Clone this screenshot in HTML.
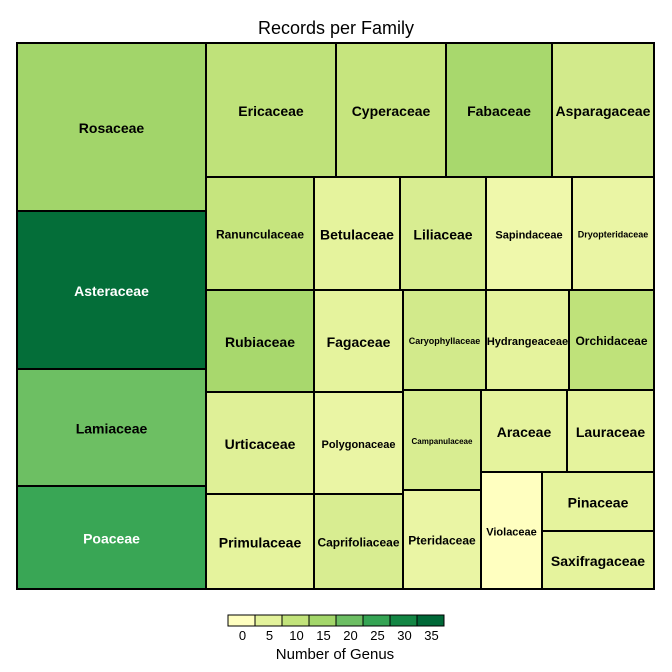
<!DOCTYPE html>
<html><head><meta charset="utf-8"><style>
body{margin:0;background:#fff;}
svg{display:block;font-family:"Liberation Sans",Arial,sans-serif;}
</style></head><body>
<svg id="c" width="672" height="672">
<text x="336" y="34" text-anchor="middle" font-size="18">Records per Family</text>
<g id="tiles"></g>
<g id="legend"></g>
</svg>
<script>
const families=["Rosaceae","Asteraceae","Lamiaceae","Poaceae","Ericaceae","Cyperaceae","Fabaceae","Asparagaceae","Ranunculaceae","Betulaceae","Liliaceae","Sapindaceae","Dryopteridaceae","Rubiaceae","Fagaceae","Caryophyllaceae","Hydrangeaceae","Orchidaceae","Urticaceae","Primulaceae","Polygonaceae","Caprifoliaceae","Campanulaceae","Pteridaceae","Araceae","Lauraceae","Violaceae","Pinaceae","Saxifragaceae"];
const genusCounts=[16,36,21,26,11,10,15,8,10,5,7,3,4,15,5,8,5,11,6,5,4,7,7,4,5,5,0,5,5];
// tile rectangles [x0,y0,x1,y1] from the treemap layout
const tileRects=[[17,43,206,211],[17,211,206,369],[17,369,206,486],[17,486,206,589],
[206,43,336,177],[336,43,446,177],[446,43,552,177],[552,43,654,177],
[206,177,314,290],[314,177,400,290],[400,177,486,290],[486,177,572,290],[572,177,654,290],
[206,290,314,392],[314,290,403,392],[403,290,486,390],[486,290,569,390],[569,290,654,390],
[206,392,314,494],[206,494,314,589],[314,392,403,494],[314,494,403,589],
[403,390,481,490],[403,490,481,589],[481,390,567,472],[567,390,654,472],
[481,472,542,589],[542,472,654,531],[542,531,654,589]];
const labelSizes=[14,14,14,14,14,14,14,14,12,14,14,11,9,14,14,9,11,12,14,14,11,12,8,12,14,14,11,14,14];
const legendTicks=[0,5,10,15,20,25,30,35];
const palette=["#ffffc0","#e3f29b","#c2e37b","#a3d66a","#6cbe63","#35a454","#138644","#006837"];
const NS="http://www.w3.org/2000/svg";
function color(v){const t=Math.max(0,Math.min(1,v/37));const i=t*(palette.length-1);const a=Math.floor(i),b=Math.min(a+1,palette.length-1),f=i-a;
const p=h=>[1,3,5].map(k=>parseInt(h.substr(k,2),16));const A=p(palette[a]),B=p(palette[b]);
return "rgb("+A.map((x,j)=>Math.round(x+(B[j]-x)*f)).join(",")+")";}
const tg=document.getElementById("tiles");
families.forEach((f,i)=>{const [x0,y0,x1,y1]=tileRects[i];
const r=document.createElementNS(NS,"rect");
r.setAttribute("x",x0);r.setAttribute("y",y0);r.setAttribute("width",x1-x0);r.setAttribute("height",y1-y0);
r.setAttribute("fill",color(genusCounts[i]));r.setAttribute("stroke","#000");r.setAttribute("stroke-width","2");


tg.appendChild(r);
const t=document.createElementNS(NS,"text");
t.setAttribute("x",(x0+x1)/2);t.setAttribute("y",(y0+y1)/2+labelSizes[i]*0.35+1);
t.setAttribute("text-anchor","middle");t.setAttribute("font-size",labelSizes[i]);t.setAttribute("font-weight","bold");
t.setAttribute("fill",genusCounts[i]>22?"#fff":"#000");t.textContent=f;


tg.appendChild(t);});
const outer=document.createElementNS(NS,"rect");
outer.setAttribute("x",17);outer.setAttribute("y",43);outer.setAttribute("width",637);outer.setAttribute("height",546);
outer.setAttribute("fill","none");outer.setAttribute("stroke","#000");outer.setAttribute("stroke-width","2");


tg.appendChild(outer);
const lg=document.getElementById("legend");
const lx=228,lw=27,ly=615,lh=11;
palette.forEach((c,i)=>{const r=document.createElementNS(NS,"rect");
r.setAttribute("x",lx+i*lw);r.setAttribute("y",ly);r.setAttribute("width",lw);r.setAttribute("height",lh);
r.setAttribute("fill",c);r.setAttribute("stroke","#000");r.setAttribute("stroke-width","1");


lg.appendChild(r);});
legendTicks.forEach((v,i)=>{const t=document.createElementNS(NS,"text");
t.setAttribute("x",lx+lw*(i+0.5)+1);t.setAttribute("y",640);t.setAttribute("text-anchor","middle");t.setAttribute("font-size","13");
t.textContent=v;


lg.appendChild(t);});
const lt=document.createElementNS(NS,"text");
lt.setAttribute("x",335);lt.setAttribute("y",659);lt.setAttribute("text-anchor","middle");lt.setAttribute("font-size","15");
lt.textContent="Number of Genus";


lg.appendChild(lt);
</script>
</body></html>
